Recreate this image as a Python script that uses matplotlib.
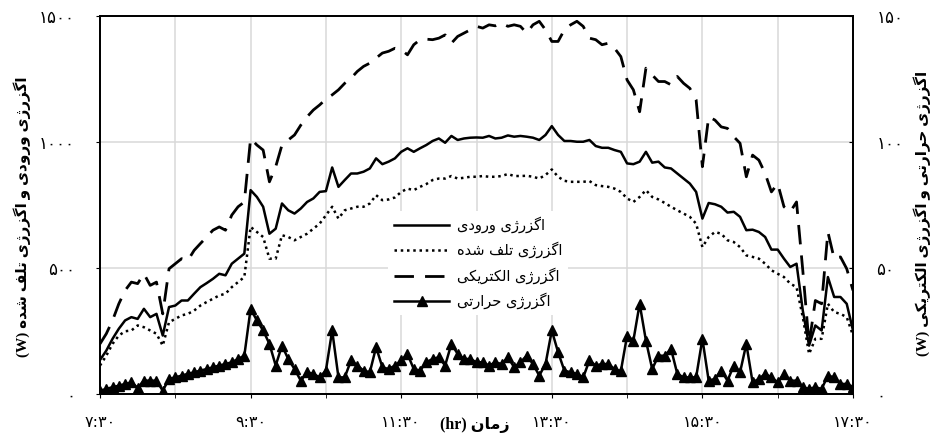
import numpy as np
import matplotlib
matplotlib.use("Agg")
import matplotlib.pyplot as plt

# 5-minute readings from 7:30 to 17:30
input_exergy = [135, 172, 219, 259, 292, 305, 298, 338, 305, 318, 232, 345, 351, 371, 371, 398,
                424, 440, 457, 477, 471, 517, 537, 557, 809, 782, 743, 636, 656, 756, 729,
                716, 736, 762, 776, 802, 805, 899, 822, 849, 875, 875, 882, 895, 935, 912,
                922, 935, 961, 975, 961, 975, 988, 1004, 1014, 997, 1024, 1008, 1014, 1017, 1018,
                1017, 1024, 1014, 1017, 1026, 1021, 1024, 1021, 1017, 1008, 1028, 1063, 1028, 1004, 1004,
                1001, 1001, 1008, 984, 977, 977, 968, 961, 915, 912, 922, 961, 918, 922, 899,
                895, 875, 855, 835, 802, 696, 758, 753, 743, 720, 723, 703, 650, 652, 643,
                623, 573, 573, 537, 504, 517, 331, 192, 272, 252, 464, 385, 385, 358, 252]
loss_exergy = [113, 152, 199, 232, 249, 252, 272, 265, 252, 239, 192, 285, 298, 312, 318, 331,
               351, 365, 378, 391, 398, 424, 444, 464, 663, 643, 623, 537, 537, 630, 623,
               610, 623, 636, 656, 676, 709, 743, 696, 729, 736, 743, 743, 756, 789, 769,
               772, 780, 802, 815, 809, 822, 833, 849, 855, 855, 865, 855, 858, 862, 862,
               865, 862, 862, 865, 873, 865, 865, 866, 862, 855, 869, 891, 862, 846, 842,
               842, 842, 845, 829, 825, 822, 815, 802, 776, 762, 782, 809, 782, 772, 758,
               743, 729, 716, 703, 676, 583, 623, 643, 636, 610, 603, 583, 550, 544, 537,
               517, 491, 477, 464, 438, 424, 305, 159, 219, 219, 358, 325, 318, 305, 232]
electrical_exergy = [19.9, 23.9, 29.2, 35.8, 41.1, 44.4, 43.8, 47.7, 43.1, 44.4, 31.8, 49.7, 51.7, 53.7, 53.0, 57.0,
                     59.7, 62.3, 65.0, 66.3, 65.0, 71.0, 74.3, 76.2, 101.4, 98.8, 96.8, 84.2, 90.2, 98.8, 100.8,
                     102.8, 106.7, 110.0, 112.7, 114.7, 117.0, 118.7, 120.7, 123.3, 125.3, 128.0, 130.0, 131.3, 133.3, 135.3,
                     136.0, 137.2, 136.6, 134.6, 138.6, 140.6, 140.8, 140.6, 141.2, 142.5, 139.2, 141.9, 143.2, 144.5, 145.9,
                     145.2, 146.5, 146.1, 147.2, 145.9, 146.5, 145.9, 143.2, 146.5, 147.9, 144.5, 139.9, 139.9, 144.5, 146.5,
                     147.9, 145.9, 141.2, 140.6, 138.6, 139.2, 137.2, 133.9, 124.6, 120.7, 112.0, 129.3, 126.6, 124.0, 124.0,
                     122.7, 126.0, 123.3, 121.3, 116.7, 90.2, 110.0, 108.7, 106.0, 105.4, 102.1, 99.5, 86.2, 94.8, 92.8,
                     87.5, 80.2, 83.5, 74.3, 72.3, 76.2, 49.0, 19.9, 37.1, 35.8, 64.3, 53.7, 54.4, 49.7, 41.1]
thermal_exergy = [1.3, 2.0, 2.7, 3.3, 4.0, 4.6, 2.5, 5.3, 5.3, 5.3, 1.3, 6.0, 6.6, 7.3, 8.0, 8.6,
                  9.3, 9.9, 10.6, 11.3, 11.9, 12.6, 13.9, 15.2, 33.8, 29.2, 25.2, 19.9, 11.3, 19.2, 13.9,
                  9.9, 5.3, 8.6, 8.0, 6.6, 9.3, 25.2, 6.6, 6.6, 13.3, 11.3, 9.3, 8.6, 18.6, 10.6,
                  9.9, 11.3, 13.3, 15.9, 9.9, 9.3, 12.6, 13.9, 14.6, 11.3, 19.9, 15.9, 13.9, 13.9, 12.6,
                  12.6, 11.3, 12.6, 11.9, 14.6, 10.6, 12.6, 15.2, 11.9, 7.3, 11.9, 25.2, 16.6, 9.3, 8.6,
                  8.0, 6.6, 13.3, 11.3, 11.9, 11.9, 9.9, 9.0, 23.2, 21.2, 35.8, 21.2, 9.9, 15.2, 15.2,
                  17.9, 8.0, 6.6, 6.6, 6.6, 21.9, 5.3, 6.0, 9.3, 5.3, 11.3, 8.6, 19.9, 4.6, 6.0,
                  8.0, 6.6, 4.6, 8.0, 5.3, 5.3, 2.7, 2.0, 2.7, 2.0, 7.3, 6.6, 4.0, 4.0, 2.7]

hours = 7.5 + np.arange(len(input_exergy)) * 5 / 60

x_ticks = [7.5, 9.5, 11.5, 13.5, 15.5, 17.5]
x_labels = ["7:30", "9:30", "11:30", "13:30", "15:30", "17:30"]
left_ticks = [0, 500, 1000, 1500]
right_ticks = [0, 50, 100, 150]

legend_names = ["اگزرژی ورودی", "اگزرژی تلف شده", "اگزرژی الکتریکی", "اگزرژی حرارتی"]
left_title = "اگزرژی ورودی و اگزرژی تلف شده"
right_title = "اگزرژی حرارتی و اگزرژی الکتریکی"
x_title = "زمان"

# contextual forms: isolated, final, initial, medial
FORMS = {
    'ا': ('\ufe8d', '\ufe8e'), 'د': ('\ufea9', '\ufeaa'), 'ر': ('\ufead', '\ufeae'),
    'ز': ('\ufeaf', '\ufeb0'), 'ژ': ('\ufb8a', '\ufb8b'), 'و': ('\ufeed', '\ufeee'),
    'ت': ('\ufe95', '\ufe96', '\ufe97', '\ufe98'), 'ح': ('\ufea1', '\ufea2', '\ufea3', '\ufea4'),
    'ش': ('\ufeb5', '\ufeb6', '\ufeb7', '\ufeb8'), 'ف': ('\ufed1', '\ufed2', '\ufed3', '\ufed4'),
    'ل': ('\ufedd', '\ufede', '\ufedf', '\ufee0'), 'م': ('\ufee1', '\ufee2', '\ufee3', '\ufee4'),
    'ن': ('\ufee5', '\ufee6', '\ufee7', '\ufee8'), 'ه': ('\ufee9', '\ufeea', '\ufeeb', '\ufeec'),
    'ک': ('\ufb8e', '\ufb8f', '\ufb90', '\ufb91'), 'گ': ('\ufb92', '\ufb93', '\ufb94', '\ufb95'),
    'ی': ('\ufbfc', '\ufbfd', '\ufbfe', '\ufbff'),
}


def fa(text):
    # join letters and flip to visual (left-to-right) order
    out = []
    for k, ch in enumerate(text):
        if ch not in FORMS:
            out.append(ch)
            continue
        prev = text[k - 1] if k > 0 else ''
        nxt = text[k + 1] if k + 1 < len(text) else ''
        f = FORMS[ch]
        join_prev = prev in FORMS and len(FORMS[prev]) == 4
        join_next = nxt in FORMS and len(f) == 4
        if join_prev and join_next:
            out.append(f[3])
        elif join_prev:
            out.append(f[1])
        elif join_next:
            out.append(f[2])
        else:
            out.append(f[0])
    return ''.join(reversed(out))


def fa_digits(s):
    return s.translate(str.maketrans("0123456789", "۰۱۲۳۴۵۶۷۸۹"))


label_font = ['Liberation Serif', 'DejaVu Sans']
plt.rcParams['font.family'] = ['DejaVu Sans']

fig = plt.figure(figsize=(9.31, 4.36), dpi=100)
ax = fig.add_axes([100 / 931, 1 - 394 / 436, 753 / 931, 378 / 436])
ax2 = ax.twinx()

l1, = ax.plot(hours, input_exergy, color='black', lw=1.8, zorder=3)
l2, = ax.plot(hours, loss_exergy, color='black', lw=1.8, ls=(0, (1, 1.5)), zorder=3)
l3, = ax2.plot(hours, electrical_exergy, color='black', lw=2, dashes=(7, 4))
l4, = ax2.plot(hours, thermal_exergy, color='black', lw=1.8, marker='^', ms=7.5)

ax.set_xlim(7.5, 17.5)
ax.set_ylim(0, 1500)
ax2.set_ylim(0, 150)

ax.set_xticks(x_ticks)
ax.set_xticks(np.arange(8.5, 17.5, 2), minor=True)
ax.set_xticklabels([fa_digits(s) for s in x_labels], fontsize=11.5)
ax.set_yticks(left_ticks)
ax.set_yticklabels([fa_digits(str(v)) for v in left_ticks], fontsize=12)
ax2.set_yticks(right_ticks)
ax2.set_yticklabels([fa_digits(str(v)) for v in right_ticks], fontsize=12)

ax.grid(True, which='both', color='#d9d9d9', lw=1.1)
ax.set_axisbelow(True)
ax.tick_params(axis='x', which='both', direction='out', length=3, pad=12)
ax.tick_params(axis='y', direction='out', length=3, pad=15)
ax2.tick_params(axis='y', direction='in', length=3, pad=17)
for a in (ax, ax2):
    for sp in a.spines.values():
        sp.set_linewidth(1.3)

leg = ax2.legend([l1, l2, l3, l4], [fa(s) for s in legend_names],
                 loc='center', bbox_to_anchor=(0.502, 0.347), fontsize=10.5,
                 handlelength=3.8, handletextpad=0.5, labelspacing=0.6,
                 frameon=True, fancybox=False, borderpad=0.4)
leg.get_frame().set_edgecolor('none')
leg.get_frame().set_facecolor('white')
leg.get_frame().set_alpha(1)

fig.text(22 / 931, 1 - 217 / 436, "(W) " + fa(left_title), rotation=90,
         ha='center', va='center', fontsize=11, fontweight='bold', family=label_font)
fig.text(922 / 931, 1 - 213 / 436, "(W) " + fa(right_title), rotation=90,
         ha='center', va='center', fontsize=11, fontweight='bold', family=label_font)
fig.text(475 / 931, 1 - 425 / 436, "(hr) " + fa(x_title),
         ha='center', va='center', fontsize=11.5, fontweight='bold', family=label_font)

fig.savefig("out.png", dpi=100)
